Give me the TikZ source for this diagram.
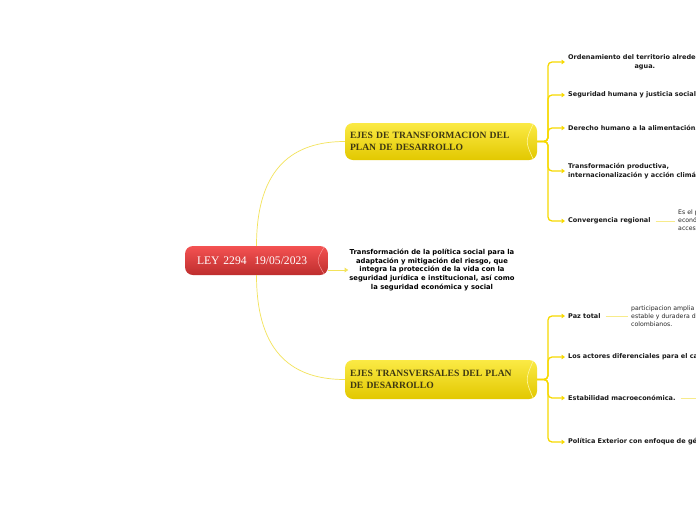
\documentclass[tikz,border=0pt]{standalone}
\usepackage{fontspec}
\setmainfont{Liberation Serif}
\newfontfamily\vsans{DejaVu Sans}
\usetikzlibrary{arrows.meta}
\definecolor{lineY}{HTML}{F3E35A}
\definecolor{brY}{HTML}{F7D900}
\definecolor{yTop}{HTML}{FBEA45}
\definecolor{yBot}{HTML}{E2C800}
\definecolor{rTop}{HTML}{F45252}
\definecolor{rBot}{HTML}{BE2E2E}
\definecolor{olive}{HTML}{3E3812}
\tikzset{
  arrowtip/.style={-{Triangle[width=4.5pt,length=3.5pt]}},
  br/.style={draw=brY, line width=1.3pt, rounded corners=4pt},
  curveln/.style={draw=lineY, line width=0.7pt},
  noteln/.style={draw=lineY!70!white, line width=0.8pt},
  leaf/.style={font=\vsans\bfseries\fontsize{6.5}{8.8}\selectfont, anchor=west, inner xsep=3pt, inner ysep=1pt, text=black!90},
  note/.style={font=\vsans\fontsize{6.2}{8}\selectfont, anchor=west, inner xsep=3pt, inner ysep=1pt, align=left, text=black!85},
  ybox/.style={rounded corners=8pt, top color=yTop, bottom color=yBot, draw=none, minimum width=192pt, text width=182pt, inner xsep=5pt, align=left, font=\bfseries\fontsize{9.6}{12}\selectfont, text=olive},
  rbox/.style={rounded corners=8pt, top color=rTop, bottom color=rBot, draw=none, minimum width=143pt, minimum height=29pt, text width=119pt, inner xsep=12pt, align=left, font=\fontsize{11.6}{13}\selectfont, text=white}
}
\begin{document}
\begin{tikzpicture}[x=1pt,y=-1pt]
\useasboundingbox (0,0) rectangle (696,520);
\fill[white] (0,0) rectangle (696,520);
\clip (0,0) rectangle (696,520);

% main nodes
\node[rbox] (root) at (256.5,260.5) {LEY 2294\ \ 19/05/2023};
\node[ybox, minimum height=37pt] (boxT) at (441,141.5) {EJES DE TRANSFORMACION DEL\\PLAN DE DESARROLLO};
\node[ybox, minimum height=39pt] (boxB) at (441,379.5) {EJES TRANSVERSALES DEL PLAN\\DE DESARROLLO};
\node[font=\vsans\bfseries\fontsize{6.8}{8.6}\selectfont, align=center, inner sep=1pt] (mid) at (432,270)
  {Transformación de la política social para la\\adaptación y mitigación del riesgo, que\\integra la protección de la vida con la\\seguridad jurídica e institucional, así como\\la seguridad económica y social};

% cylinder highlights
\draw[yTop!50!white, line width=0.6pt] ([xshift=-4pt,yshift=-1pt]boxT.north east) .. controls ([xshift=-12pt]boxT.east) .. ([xshift=-4pt,yshift=1pt]boxT.south east);
\draw[yTop!50!white, line width=0.6pt] ([xshift=-4pt,yshift=-1pt]boxB.north east) .. controls ([xshift=-12pt]boxB.east) .. ([xshift=-4pt,yshift=1pt]boxB.south east);
\draw[rTop!60!white, line width=0.5pt] ([xshift=-4pt,yshift=-1pt]root.north east) .. controls ([xshift=-12pt]root.east) .. ([xshift=-4pt,yshift=1pt]root.south east);

% root connectors
\draw[curveln] (root.north) .. controls +(0,-80) and +(-50,0) .. (boxT.west);
\draw[curveln] (root.south) .. controls +(0,80) and +(-50,0) .. (boxB.west);
\draw[curveln, arrowtip] (root.east |- mid.west) -- (mid.west);

% top children
\node[leaf, align=center] (c1) at (565,62) {Ordenamiento del territorio alrededor del\\agua.};
\node[leaf] (c2) at (565,95) {Seguridad humana y justicia social.};
\node[leaf] (c3) at (565,128) {Derecho humano a la alimentación.};
\node[leaf, align=left] (c4) at (565,171) {Transformación productiva,\\internacionalización y acción climática.};
\node[leaf] (c5) at (565,221) {Convergencia regional};
\node[note] (n5) at (675,221) {Es el proceso de reducción de brechas\\económicas, sociales y de\\acceso a oportunidades};

\coordinate (bT) at (548,141.5);
\foreach \c in {c1,c2,c3,c4,c5}
  \draw[br, arrowtip] (boxT.east) -- (bT) |- (\c.west);
\draw[noteln] ([xshift=2pt]c5.east) -- (n5.west);

% bottom children
\node[leaf] (d1) at (565,316) {Paz total};
\node[note] (n1) at (628,316) {participacion amplia de la sociedad\\estable y duradera de todos los\\colombianos.};
\node[leaf] (d2) at (565,357) {Los actores diferenciales para el cambio.};
\node[leaf] (d3) at (565,398) {Estabilidad macroeconómica.};
\node[leaf] (d4) at (565,442) {Política Exterior con enfoque de género.};
\coordinate (e3) at (705,398);

\coordinate (bB) at (548,379.5);
\foreach \c in {d1,d2,d3,d4}
  \draw[br, arrowtip] (boxB.east) -- (bB) |- (\c.west);
\draw[noteln] ([xshift=2pt]d1.east) -- (n1.west);
\draw[noteln] ([xshift=2pt]d3.east) -- (e3);
\end{tikzpicture}
\end{document}
